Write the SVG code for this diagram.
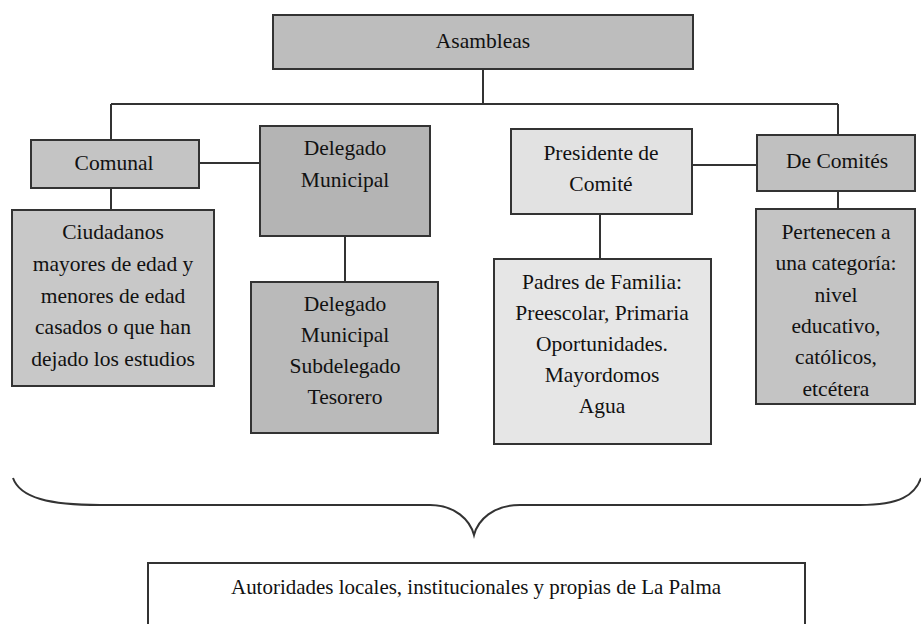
<svg xmlns="http://www.w3.org/2000/svg" width="921" height="624" viewBox="0 0 921 624">
<style>
.box{stroke:#333;stroke-width:2}
.t{font-family:"Liberation Serif","Times New Roman",serif;font-size:21.5px;fill:#111;text-anchor:middle}
.c{stroke:#333;stroke-width:2;fill:none}
</style>
<rect width="921" height="624" fill="#fff"/>
<g id="connectors">
<line class="c" x1="483" y1="69" x2="483" y2="104"/>
<line class="c" x1="111" y1="104" x2="838" y2="104"/>
<line class="c" x1="111" y1="104" x2="111" y2="140"/>
<line class="c" x1="838" y1="104" x2="838" y2="135"/>
<line class="c" x1="111" y1="188" x2="111" y2="210"/>
<line class="c" x1="199" y1="163" x2="260" y2="163"/>
<line class="c" x1="345" y1="236" x2="345" y2="282"/>
<line class="c" x1="692" y1="165" x2="757" y2="165"/>
<line class="c" x1="600" y1="214" x2="600" y2="259"/>
<line class="c" x1="838" y1="191" x2="838" y2="209"/>
<path class="c" d="M13 478 C20 498 50 505 100 505 L430 505 C455 505 470 520 474 535 C478 520 493 505 520 505 L860 505 C900 505 915 495 921 478"/>
</g>
<g id="asambleas">
<rect class="box" x="273" y="15" width="420" height="54" fill="#bdbdbd"/>
<text class="t" x="483" y="48">Asambleas</text>
</g>
<g id="comunal">
<rect class="box" x="31" y="140" width="168" height="48" fill="#c4c4c4"/>
<text class="t" x="114" y="170">Comunal</text>
</g>
<g id="delegado">
<rect class="box" x="260" y="126" width="170" height="110" fill="#b4b4b4"/>
<text class="t" x="345" y="155">Delegado</text>
<text class="t" x="345" y="187">Municipal</text>
</g>
<g id="ciudadanos">
<rect class="box" x="12" y="210" width="202" height="176" fill="#c8c8c8"/>
<text class="t" x="113" y="239">Ciudadanos</text>
<text class="t" x="113" y="271">mayores de edad y</text>
<text class="t" x="113" y="303">menores de edad</text>
<text class="t" x="113" y="334">casados o que han</text>
<text class="t" x="113" y="366">dejado los estudios</text>
</g>
<g id="delegado-lista">
<rect class="box" x="251" y="282" width="187" height="151" fill="#bababa"/>
<text class="t" x="345" y="311">Delegado</text>
<text class="t" x="345" y="342">Municipal</text>
<text class="t" x="345" y="373">Subdelegado</text>
<text class="t" x="345" y="404">Tesorero</text>
</g>
<g id="presidente">
<rect class="box" x="511" y="129" width="181" height="85" fill="#e2e2e2"/>
<text class="t" x="601" y="160">Presidente de</text>
<text class="t" x="601" y="191">Comité</text>
</g>
<g id="padres">
<rect class="box" x="494" y="259" width="217" height="185" fill="#e6e6e6"/>
<text class="t" x="602" y="289">Padres de Familia:</text>
<text class="t" x="602" y="320">Preescolar, Primaria</text>
<text class="t" x="602" y="351">Oportunidades.</text>
<text class="t" x="602" y="382">Mayordomos</text>
<text class="t" x="602" y="413">Agua</text>
</g>
<g id="comites">
<rect class="box" x="757" y="135" width="158" height="56" fill="#c0c0c0"/>
<text class="t" x="837" y="168">De Comités</text>
</g>
<g id="pertenecen">
<rect class="box" x="756" y="209" width="159" height="195" fill="#c4c4c4"/>
<text class="t" x="836" y="239">Pertenecen a</text>
<text class="t" x="836" y="270">una categoría:</text>
<text class="t" x="836" y="302">nivel</text>
<text class="t" x="836" y="333">educativo,</text>
<text class="t" x="836" y="364">católicos,</text>
<text class="t" x="836" y="396">etcétera</text>
</g>
<g id="autoridades">
<rect class="box" x="148" y="563" width="657" height="70" fill="#fff"/>
<text class="t" x="476" y="594" font-size="18" textLength="490" lengthAdjust="spacingAndGlyphs">Autoridades locales, institucionales y propias de La Palma</text>
</g>
</svg>
